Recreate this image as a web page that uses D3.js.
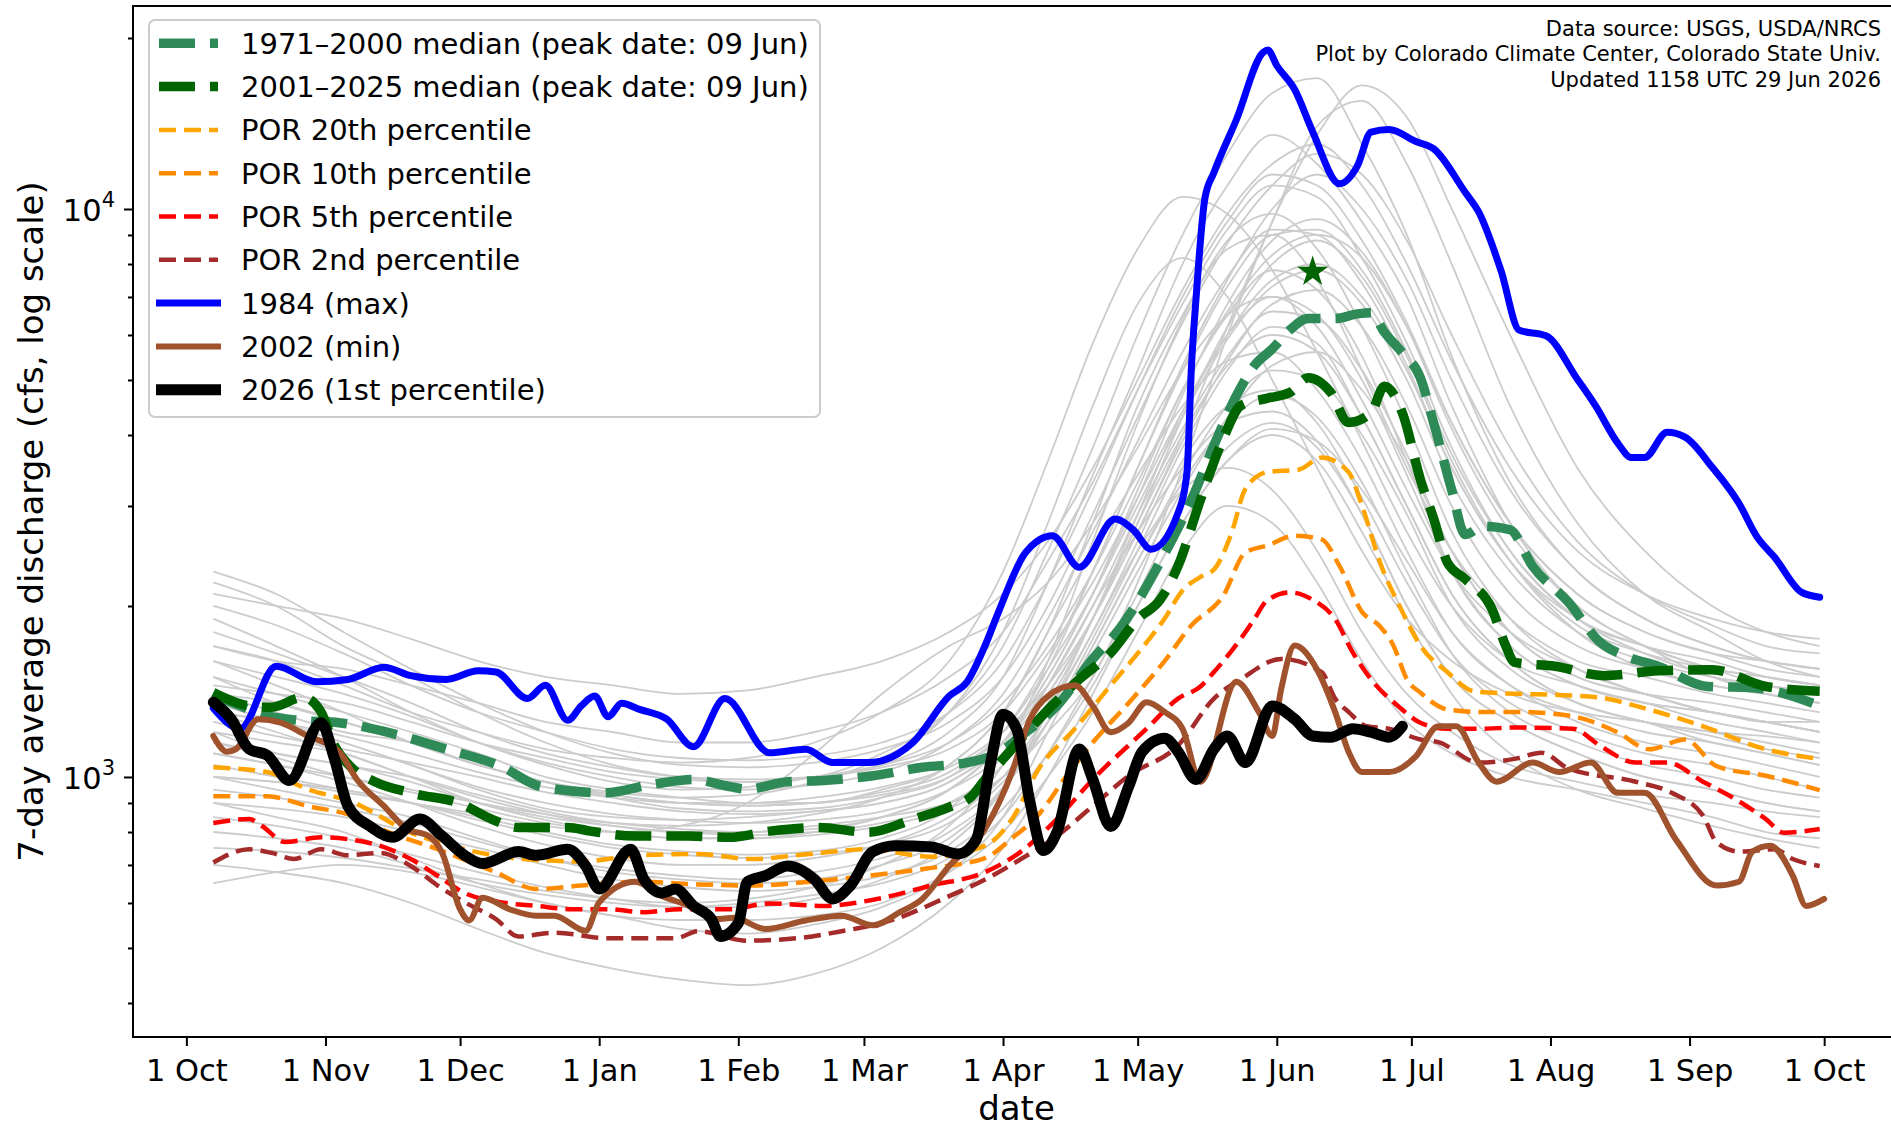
<!DOCTYPE html>
<html>
<head>
<meta charset="utf-8">
<script src="https://cdn.jsdelivr.net/npm/d3@7"></script>
<style>
  body { margin: 0; background: #fff; }
  svg text { font-family: "DejaVu Sans", sans-serif; fill: #000; }
</style>
</head>
<body>
<script>
// ---------------------------------------------------------------
// data: [day of water year (0 = 1 Oct), 7-day average discharge cfs]
// ---------------------------------------------------------------
var median7100 = [[6,1394],[12,1334],[18,1283],[25,1258],[34,1246],[46,1192],[58,1119],[70,1045],[79,962],[93,938],[104,971],[113,990],[121,962],[125,952],[134,981],[142,986],[153,1005],[164,1040],[174,1060],[181,1103],[186,1181],[194,1334],[202,1614],[208,1824],[217,2389],[224,3077],[229,3835],[234,4690],[238,5297],[242,5670],[246,6132],[250,6412],[256,6412],[261,6536],[264,6566],[267,6067],[271,5581],[275,5044],[278,4190],[282,3199],[285,2673],[289,2765],[295,2724],[300,2352],[308,2031],[315,1729],[321,1630],[328,1567],[339,1443],[349,1436],[364,1334]];

var median0125 = [[6,1408],[14,1334],[19,1327],[26,1381],[30,1302],[33,1136],[37,1035],[42,981],[51,934],[61,898],[68,843],[74,815],[85,815],[90,803],[100,787],[112,787],[121,783],[130,803],[141,815],[152,799],[162,843],[170,885],[175,925],[178,990],[182,1076],[190,1264],[199,1486],[206,1654],[212,1897],[217,2051],[221,2352],[226,3077],[231,3927],[235,4508],[241,4645],[246,4756],[250,5044],[255,4756],[259,4208],[264,4375],[267,4874],[271,4375],[275,3343],[278,2845],[281,2389],[285,2231],[291,1972],[294,1704],[296,1591],[305,1567],[316,1508],[328,1538],[340,1545],[352,1443],[364,1415]];

var pct20 = [[6,1040],[18,1020],[27,952],[37,903],[50,798],[62,746],[75,717],[88,710],[101,728],[114,732],[126,717],[139,732],[152,746],[166,724],[178,757],[184,843],[190,1035],[198,1216],[206,1450],[212,1650],[218,1900],[222,2130],[226,2250],[229,2318],[233,2700],[236,3215],[241,3443],[248,3478],[253,3652],[259,3443],[262,3003],[266,2389],[271,1953],[275,1704],[281,1530],[287,1415],[296,1401],[305,1395],[315,1380],[323,1334],[338,1228],[352,1119],[364,1076]];

var pct10 = [[6,925],[18,925],[27,889],[37,855],[45,800],[56,746],[69,679],[78,635],[88,644],[101,654],[114,647],[126,644],[139,654],[152,670],[165,690],[178,720],[184,780],[190,860],[196,1000],[202,1150],[210,1350],[218,1600],[224,1850],[231,2080],[236,2483],[241,2557],[247,2660],[253,2620],[257,2352],[262,1953],[266,1842],[269,1704],[272,1486],[275,1408],[281,1315],[288,1302],[296,1302],[308,1283],[319,1198],[326,1119],[334,1164],[341,1045],[352,1005],[364,948]];

var pct5 = [[6,830],[14,843],[17,818],[22,768],[30,783],[37,775],[43,757],[50,717],[56,670],[62,625],[70,602],[78,593],[86,585],[94,585],[102,578],[110,585],[121,585],[130,599],[142,593],[154,610],[166,644],[178,680],[186,739],[194,843],[202,990],[214,1216],[221,1374],[226,1443],[229,1530],[236,1798],[238,1897],[241,2051],[246,2113],[251,2051],[256,1897],[260,1654],[264,1486],[270,1334],[275,1246],[281,1216],[288,1216],[296,1222],[309,1216],[315,1136],[323,1060],[330,1060],[338,981],[345,916],[352,843],[356,798],[364,810]];

var pct2 = [[6,707],[14,746],[19,735],[24,717],[30,746],[36,728],[43,735],[50,697],[56,644],[62,602],[69,562],[74,524],[82,532],[94,520],[102,520],[109,520],[114,535],[125,515],[136,520],[146,535],[157,559],[170,617],[178,660],[186,717],[194,787],[202,889],[210,1005],[221,1136],[229,1374],[235,1486],[244,1614],[253,1530],[256,1374],[259,1302],[263,1228],[268,1216],[275,1164],[279,1152],[288,1060],[296,1076],[302,1103],[308,1035],[323,981],[331,938],[338,855],[341,768],[346,739],[354,746],[358,717],[364,697]];

var year1984 = [[6,1322],[12,1216],[20,1567],[29,1471],[36,1485],[44,1560],[50,1508],[58,1485],[65,1538],[69,1530],[76,1374],[80,1450],[85,1258],[88,1334],[91,1388],[94,1277],[97,1348],[101,1315],[107,1265],[113,1130],[120,1374],[130,1103],[138,1119],[144,1060],[152,1060],[162,1152],[170,1388],[174,1471],[178,1704],[181,1953],[187,2483],[193,2660],[199,2340],[207,2845],[211,2724],[215,2518],[221,2917],[223,3443],[224,5297],[225,6934],[227,10450],[229,11590],[234,14360],[240,18880],[241,19050],[243,17890],[247,16230],[251,13680],[257,11080],[261,11920],[264,13660],[268,13800],[274,13150],[278,12760],[285,10700],[288,9880],[293,7780],[297,6120],[303,5980],[310,5015],[314,4510],[319,3872],[322,3652],[325,3652],[330,4045],[334,3966],[340,3514],[346,3033],[350,2650],[354,2434],[360,2113],[364,2072]];

var year2002 = [[6,1181],[9,1108],[11,1119],[16,1264],[21,1246],[27,1181],[34,1108],[38,990],[44,889],[49,811],[54,787],[57,735],[61,585],[63,559],[66,613],[72,585],[78,570],[82,570],[89,536],[92,602],[100,654],[106,617],[112,593],[118,562],[122,565],[129,540],[138,559],[146,570],[153,548],[159,578],[164,610],[170,697],[178,811],[184,1020],[188,1264],[192,1388],[198,1450],[202,1334],[206,1199],[210,1246],[214,1354],[218,1302],[222,1216],[226,981],[234,1471],[239,1302],[242,1181],[244,1430],[247,1704],[252,1545],[256,1302],[259,1108],[262,1020],[268,1020],[274,1087],[279,1228],[283,1228],[288,1060],[292,981],[300,1060],[306,1020],[313,1060],[319,938],[325,938],[332,775],[341,644],[346,654],[349,739],[353,757],[358,670],[361,593],[365,610]];

var year2026 = [[6,1354],[10,1264],[14,1119],[18,1092],[23,986],[30,1246],[33,1076],[36,889],[41,818],[46,783],[52,843],[57,787],[62,728],[66,704],[74,739],[78,728],[85,746],[89,697],[92,635],[99,746],[102,660],[106,625],[109,635],[113,593],[117,562],[119,524],[123,553],[125,654],[129,670],[134,697],[140,660],[144,610],[148,644],[153,739],[158,757],[166,753],[172,732],[176,775],[179,1035],[182,1290],[185,1216],[188,903],[191,742],[194,799],[199,1120],[202,990],[206,818],[210,962],[213,1108],[218,1170],[221,1108],[225,990],[229,1120],[232,1181],[236,1060],[242,1334],[247,1264],[251,1181],[255,1175],[260,1216],[264,1199],[268,1175],[271,1228]];

var peakStar = [251, 7750];

// individual years of record (grey), sampled on these days
var greyDays = [6,20,35,50,65,80,95,110,125,140,155,170,182,192,202,212,222,232,242,252,262,272,282,295,310,325,340,352,364];
var greyYears = [
  [1900,1700,1500,1300,1150,1050,980,950,960,1000,1050,1200,1500,2200,3400,5200,8000,11000,13500,12000,9500,7000,4500,2800,2000,1700,1500,1450,1400],
  [1300,1250,1150,1050,950,880,850,840,850,870,900,980,1150,1500,2100,3200,4800,6500,7800,7200,5500,3600,2300,1700,1450,1350,1300,1250,1200],
  [900,850,800,720,650,600,570,560,560,570,600,680,800,1000,1300,1800,2500,3000,2800,2200,1600,1250,1100,1000,950,900,850,800,780],
  [1200,1100,1050,980,900,850,820,800,800,820,850,900,1000,1200,1500,2200,3500,6000,9500,14000,15500,12000,8000,4500,2800,2100,1800,1600,1500],
  [1500,1400,1300,1200,1100,1000,950,920,900,900,950,1050,1300,1800,2800,4500,6500,8500,9000,7500,5200,3500,2500,1900,1600,1500,1400,1350,1300],
  [1100,1050,980,900,820,760,720,700,700,720,760,850,1000,1300,1800,2600,3800,5200,6200,5800,4300,3000,2100,1600,1350,1250,1150,1100,1050],
  [2200,2000,1700,1500,1300,1150,1050,1000,980,1000,1100,1300,1700,2500,3800,6000,9000,12500,16000,17000,13000,9000,5500,3300,2300,1900,1700,1600,1550],
  [800,780,750,700,650,620,600,590,600,620,650,720,850,1100,1500,2100,3000,3800,4200,3800,2900,2000,1500,1250,1100,1000,950,900,870],
  [1400,1300,1200,1150,1050,980,930,900,890,900,930,1000,1150,1400,1900,2800,4300,6200,8000,8800,7600,5500,3600,2400,1800,1550,1450,1400,1350],
  [1000,950,900,850,780,720,680,660,650,660,700,780,950,1250,1750,2500,3600,4500,4800,4200,3100,2200,1650,1350,1200,1100,1050,1000,950],
  [1700,1600,1550,1450,1350,1250,1200,1150,1150,1200,1300,1500,1800,2400,3300,4800,6800,9200,11000,10500,8200,5800,3800,2500,1900,1700,1600,1500,1450],
  [1200,1150,1100,1000,920,860,820,800,790,800,830,900,1050,1350,1900,2900,4400,6000,7000,6500,5000,3400,2300,1700,1450,1350,1250,1200,1150],
  [650,680,700,680,640,600,570,540,530,550,590,680,850,1200,1700,2400,3300,4200,4700,4300,3300,2300,1650,1300,1150,1050,1000,950,920],
  [1600,1450,1300,1150,1050,980,920,880,870,880,920,1000,1200,1600,2300,3500,5300,7500,10000,11500,10000,7500,5000,3200,2300,1900,1700,1600,1550],
  [1300,1200,1100,1000,900,840,800,780,780,790,820,880,1000,1250,1650,2300,3200,4300,5300,5600,4800,3600,2500,1800,1500,1400,1300,1250,1200],
  [1000,980,950,900,850,800,760,740,730,740,780,880,1100,1600,2600,4200,6400,8800,9800,8500,6200,4200,2700,1900,1550,1400,1300,1250,1200],
  [1800,1650,1500,1350,1200,1100,1040,1000,990,1000,1040,1120,1300,1650,2200,3100,4400,6000,7500,8000,7000,5200,3500,2400,1900,1700,1550,1500,1450],
  [900,880,850,800,750,700,660,640,630,640,670,740,880,1100,1450,2000,2800,3600,4100,3900,3200,2400,1800,1450,1250,1150,1100,1050,1000],
  [1150,1100,1050,1000,930,870,830,810,800,810,850,950,1150,1500,2100,3100,4700,6800,8800,9600,8400,6200,4100,2700,2000,1700,1550,1450,1400],
  [2000,1850,1650,1450,1300,1200,1120,1080,1070,1090,1150,1300,1600,2200,3200,4800,7000,9500,11500,11000,8800,6300,4200,2800,2100,1800,1650,1600,1550],
  [750,740,720,690,660,630,610,600,610,640,700,820,1050,1450,2000,2700,3500,4200,4400,3900,2900,2000,1500,1250,1100,1000,950,900,870],
  [1350,1250,1150,1050,960,900,860,840,830,840,870,950,1100,1400,1900,2700,3900,5400,6800,7200,6200,4500,3000,2100,1700,1550,1450,1400,1350],
  [1050,1000,950,900,840,790,750,730,720,730,760,830,980,1250,1700,2400,3400,4500,5200,5000,4000,2900,2000,1550,1350,1250,1200,1150,1100],
  [1500,1350,1250,1150,1050,980,930,900,890,900,940,1020,1200,1550,2100,3000,4300,5900,7300,7800,6800,5000,3300,2300,1800,1600,1500,1450,1400],
  [700,680,650,600,540,490,460,440,430,450,500,600,750,1000,1400,2000,2800,3600,4000,3600,2700,1900,1400,1100,950,880,820,780,750],
  [1250,1180,1120,1060,1000,940,900,870,860,870,900,980,1150,1450,2000,2900,4100,5500,6600,6400,5200,3700,2500,1800,1500,1400,1350,1300,1250],
  [1600,1500,1400,1280,1150,1060,1000,960,950,970,1020,1150,1400,1900,2700,3900,5600,7600,9200,9000,7400,5300,3500,2400,1850,1650,1550,1500,1450],
  [950,920,880,830,770,720,690,670,660,680,720,800,960,1300,1900,2800,4000,5300,6000,5600,4300,3000,2100,1600,1350,1250,1180,1120,1080],
  [1100,1050,1000,950,900,860,830,820,830,860,920,1050,1300,1800,2500,3400,4500,5400,5600,4800,3600,2500,1800,1450,1300,1200,1150,1100,1050],
  [2300,2100,1800,1550,1350,1200,1100,1050,1040,1060,1120,1250,1500,2000,2900,4300,6300,8700,11000,12500,11500,8800,6000,3800,2600,2100,1850,1700,1650],
  [1400,1350,1250,1150,1050,980,940,920,930,980,1080,1300,1800,2800,4500,6800,8200,7000,5000,3500,2500,1900,1600,1400,1300,1250,1200,1180,1150],
  [1700,1600,1450,1300,1200,1120,1080,1060,1080,1150,1300,1600,2300,3600,5800,8500,10500,9800,7800,5600,3900,2700,2000,1600,1450,1350,1300,1250,1250],
  [1300,1250,1180,1100,1020,960,920,900,900,920,960,1040,1200,1450,1900,2700,4000,6200,9500,13500,16500,14500,10000,6000,3500,2500,2000,1800,1700],
  [2100,2000,1900,1750,1600,1500,1450,1400,1420,1500,1600,1800,2100,2600,3500,5000,7200,9800,12000,13000,11000,8000,5400,3500,2500,2100,1900,1800,1750],
  [850,820,780,730,680,640,610,590,590,610,660,760,950,1300,1800,2500,3200,3500,3200,2500,1800,1400,1200,1050,980,930,900,870,850],
  [1150,1080,1000,940,880,830,800,780,780,800,850,950,1150,1550,2300,3500,5200,7300,9000,9200,7800,5600,3700,2500,1900,1650,1500,1400,1350],
  [1450,1400,1350,1250,1150,1080,1020,990,980,1000,1050,1150,1350,1700,2300,3300,4800,6600,8300,9000,8200,6200,4200,2800,2100,1800,1650,1550,1500],
  [1000,980,940,900,860,820,800,820,900,1100,1400,1700,1900,2200,2800,3800,5200,6500,7000,6200,4600,3200,2300,1800,1550,1400,1300,1250,1200]
];

var seriesLabels = ["1971–2000 median (peak date: 09 Jun)", "2001–2025 median (peak date: 09 Jun)",
  "POR 20th percentile", "POR 10th percentile", "POR 5th percentile", "POR 2nd percentile",
  "1984 (max)", "2002 (min)", "2026 (1st percentile)"];
var notes = ["Data source: USGS, USDA/NRCS",
  "Plot by Colorado Climate Center, Colorado State Univ.",
  "Updated 1158 UTC 29 Jun 2026"];

// ---------------------------------------------------------------
var W = 1891, H = 1130;
// plot box (right spine falls just past the window edge)
var pLeft = 133, pTop = 6, pRight = 1900, pBottom = 1037;

var start = Date.UTC(2025, 9, 1);
function dayDate(d) { return new Date(start + d * 864e5); }

var x = d3.scaleUtc().domain([dayDate(-11.9), dayDate(381.9)]).range([pLeft, pRight]);
var y = d3.scaleLog().domain([348.5, 22770]).range([pBottom, pTop]);

var svg = d3.select("body").append("svg")
  .attr("width", W).attr("height", H);

svg.append("clipPath").attr("id", "plot-clip")
  .append("rect").attr("x", pLeft).attr("y", pTop)
  .attr("width", pRight - pLeft).attr("height", pBottom - pTop);

var plot = svg.append("g").attr("clip-path", "url(#plot-clip)");

var line = d3.line()
  .x(function(d) { return x(dayDate(d[0])); })
  .y(function(d) { return y(d[1]); })
  .curve(d3.curveMonotoneX);

// grey traces for every year of record
greyYears.forEach(function(vals) {
  var pts = greyDays.map(function(d, i) { return [d, vals[i]]; });
  plot.append("path").attr("d", line(pts))
    .attr("fill", "none").attr("stroke", "#cccccc").attr("stroke-width", 1.8);
});

// coloured series, drawn bottom to top
var series = [
  {data: pct2,       color: "#a52a2a", w: 4.5, dash: "17,8"},
  {data: pct5,       color: "#ff0000", w: 4.5, dash: "17,8"},
  {data: pct10,      color: "#ff8c00", w: 4.5, dash: "17,8"},
  {data: pct20,      color: "#ffa500", w: 4.5, dash: "17,8"},
  {data: median7100, color: "#2e8b57", w: 9.5, dash: "36,15"},
  {data: median0125, color: "#006400", w: 9.5, dash: "36,15"},
  {data: year1984,   color: "#0000ff", w: 7,   dash: null},
  {data: year2002,   color: "#a0522d", w: 6,   dash: null},
  {data: year2026,   color: "#000000", w: 11,  dash: null}
];

series.forEach(function(s) {
  plot.append("path").attr("d", line(s.data))
    .attr("fill", "none")
    .attr("stroke", s.color)
    .attr("stroke-width", s.w)
    .attr("stroke-dasharray", s.dash)
    .attr("stroke-linejoin", "round")
    .attr("stroke-linecap", s.dash ? "butt" : "round");
});

// peak marker for the 2001-2025 median
plot.append("path")
  .attr("d", d3.symbol(d3.symbolStar, 300)())
  .attr("transform", "translate(" + x(dayDate(peakStar[0])) + "," + y(peakStar[1]) + ")")
  .attr("fill", "#006400");

// ---- axes ----
var months = d3.utcMonth.range(dayDate(0), dayDate(366));
var xAxis = d3.axisBottom(x).tickValues(months)
  .tickFormat(d3.utcFormat("%-d %b")).tickSize(9).tickPadding(13);
var gx = svg.append("g").attr("transform", "translate(0," + pBottom + ")").call(xAxis);
gx.select(".domain").remove();
gx.selectAll("line").attr("stroke", "#000").attr("stroke-width", 2);
gx.selectAll("text").style("font-size", "30.5px").attr("font-family", null);

var minor = [];
[100, 1000, 10000].forEach(function(p) {
  for (var k = 2; k <= 9; k++) if (p * k > 348.5 && p * k < 22770) minor.push(p * k);
});
var gyMinor = svg.append("g").attr("transform", "translate(" + pLeft + ",0)")
  .call(d3.axisLeft(y).tickValues(minor).tickSize(5).tickFormat(""));
var gyMajor = svg.append("g").attr("transform", "translate(" + pLeft + ",0)")
  .call(d3.axisLeft(y).tickValues([1000, 10000]).tickSize(9).tickFormat(""));
[gyMinor, gyMajor].forEach(function(g) {
  g.select(".domain").remove();
  g.selectAll("line").attr("stroke", "#000").attr("stroke-width", 2);
});

[[1000, "3"], [10000, "4"]].forEach(function(t) {
  var txt = svg.append("text")
    .attr("x", 115).attr("y", y(t[0]) + 12)
    .attr("text-anchor", "end").style("font-size", "30.5px");
  txt.append("tspan").text("10");
  txt.append("tspan").attr("dy", -14).style("font-size", "21px").text(t[1]);
});

svg.append("rect")
  .attr("x", pLeft).attr("y", pTop)
  .attr("width", pRight - pLeft).attr("height", pBottom - pTop)
  .attr("fill", "none").attr("stroke", "#000").attr("stroke-width", 2);

svg.append("text")
  .attr("x", (pLeft + pRight) / 2).attr("y", 1120)
  .attr("text-anchor", "middle").style("font-size", "34px")
  .text("date");

svg.append("text")
  .attr("transform", "translate(43," + (pTop + pBottom) / 2 + ") rotate(-90)")
  .attr("text-anchor", "middle").style("font-size", "34px")
  .text("7-day average discharge (cfs, log scale)");

// credits, top right
svg.selectAll(".note").data(notes).enter().append("text")
  .attr("class", "note")
  .attr("x", 1881)
  .attr("y", function(d, i) { return 36 + i * 25.3; })
  .attr("text-anchor", "end")
  .style("font-size", "21px")
  .text(function(d) { return d; });

// ---- legend ----
var legendOrder = [4, 5, 3, 2, 1, 0, 6, 7, 8];   // indices into series
var lg = svg.append("g");
lg.append("rect")
  .attr("x", 149).attr("y", 20).attr("width", 671).attr("height", 397)
  .attr("rx", 6)
  .attr("fill", "#fff").attr("fill-opacity", 0.8)
  .attr("stroke", "#cccccc").attr("stroke-width", 2);

legendOrder.forEach(function(si, i) {
  var s = series[si];
  var cy = 43.3 + i * 43.3;
  lg.append("line")
    .attr("x1", s.dash ? 159 : 156).attr("x2", s.dash ? 218 : 221)
    .attr("y1", cy).attr("y2", cy)
    .attr("stroke", s.color).attr("stroke-width", s.w)
    .attr("stroke-dasharray", s.dash);
  lg.append("text")
    .attr("x", 241).attr("y", cy + 10.5)
    .style("font-size", "29px")
    .text(seriesLabels[i]);
});
</script>
</body>
</html>
